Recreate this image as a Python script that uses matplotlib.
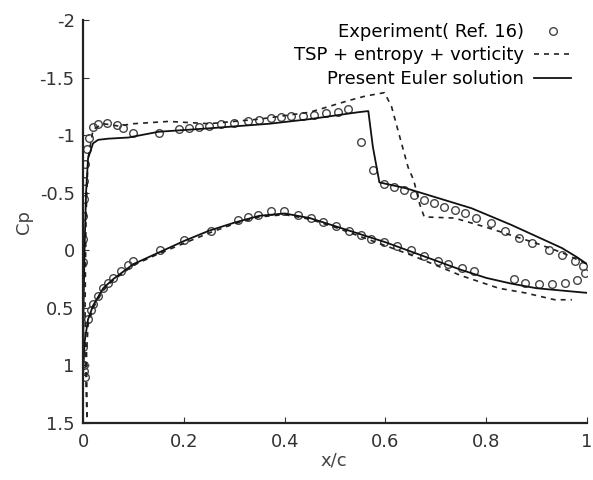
import numpy as np
import matplotlib
matplotlib.use('Agg')
import matplotlib.pyplot as plt

plt.rcParams['font.family'] = ['DejaVu Sans']

# experiment (Ref. 16), upper surface
exp_up_x = [0.0, 0.0, 0.001, 0.002, 0.004, 0.007, 0.012, 0.02, 0.03, 0.047, 0.067, 0.08,
            0.1, 0.15, 0.19, 0.21, 0.23, 0.25, 0.273, 0.299, 0.327, 0.349, 0.373, 0.392,
            0.412, 0.436, 0.458, 0.482, 0.506, 0.526, 0.552, 0.576, 0.598, 0.617, 0.637,
            0.657, 0.677, 0.697, 0.717, 0.737, 0.757, 0.78, 0.81, 0.837, 0.864, 0.89, 0.924,
            0.95, 0.977, 0.992, 0.995]
exp_up_cp = [-0.1, -0.3, -0.45, -0.6, -0.75, -0.88, -0.98, -1.07, -1.1, -1.11, -1.09, -1.06,
             -1.02, -1.02, -1.05, -1.06, -1.07, -1.08, -1.1, -1.11, -1.12, -1.13, -1.15, -1.16,
             -1.17, -1.17, -1.18, -1.19, -1.2, -1.23, -0.94, -0.70, -0.58, -0.55, -0.52,
             -0.48, -0.44, -0.41, -0.38, -0.35, -0.32, -0.28, -0.24, -0.17, -0.11, -0.06, 0.0,
             0.04, 0.09, 0.14, 0.2]

# experiment, lower surface
exp_lo_x = [0.0, 0.0, 0.001, 0.002, 0.004, 0.01, 0.015, 0.02, 0.03, 0.04, 0.05, 0.06, 0.075,
            0.09, 0.1, 0.153, 0.2, 0.253, 0.307, 0.327, 0.347, 0.372, 0.398, 0.426, 0.452,
            0.476, 0.502, 0.528, 0.552, 0.572, 0.598, 0.622, 0.651, 0.677, 0.705, 0.725,
            0.751, 0.775, 0.855, 0.877, 0.904, 0.93, 0.956, 0.98]
exp_lo_cp = [0.1, 0.84, 1.0, 1.05, 1.1, 0.6, 0.52, 0.47, 0.4, 0.33, 0.28, 0.24, 0.18,
             0.13, 0.09, 0.0, -0.09, -0.17, -0.26, -0.29, -0.31, -0.34, -0.34, -0.31, -0.28,
             -0.25, -0.21, -0.17, -0.13, -0.1, -0.07, -0.04, 0.0, 0.05, 0.09, 0.12,
             0.15, 0.18, 0.25, 0.28, 0.29, 0.29, 0.28, 0.26]

# TSP + entropy + vorticity
tsp_up_x = [0.008, 0.006, 0.004, 0.006, 0.01, 0.02, 0.04, 0.07, 0.1, 0.17, 0.25, 0.35, 0.45,
            0.526, 0.56, 0.598, 0.612, 0.625, 0.645, 0.656, 0.668, 0.677, 0.737, 0.8, 0.85,
            0.9, 0.95, 1.0]
tsp_up_cp = [1.45, 1.2, 0.5, -0.3, -0.8, -1.05, -1.1, -1.08, -1.1, -1.12, -1.1, -1.14, -1.2,
             -1.3, -1.34, -1.37, -1.25, -1.04, -0.72, -0.61, -0.4, -0.29, -0.28, -0.2, -0.13,
             -0.06, 0.02, 0.12]
tsp_lo_x = [0.008, 0.007, 0.01, 0.02, 0.04, 0.06, 0.1, 0.15, 0.2, 0.25, 0.3, 0.35, 0.4, 0.45,
            0.5, 0.55, 0.6, 0.65, 0.7, 0.75, 0.825, 0.877, 0.936, 0.97]
tsp_lo_cp = [1.45, 0.9, 0.65, 0.5, 0.35, 0.26, 0.13, 0.03, -0.06, -0.15, -0.23, -0.29, -0.31,
             -0.27, -0.2, -0.12, -0.04, 0.04, 0.13, 0.22, 0.33, 0.37, 0.43, 0.43]

# present Euler solution
eul_up_x = [0.0, 0.001, 0.003, 0.006, 0.01, 0.02, 0.03, 0.05, 0.09, 0.15, 0.25, 0.37, 0.45,
            0.546, 0.566, 0.575, 0.588, 0.64, 0.70, 0.771, 0.85, 0.9, 0.95, 0.98, 1.0]
eul_up_cp = [1.1, 0.5, 0.0, -0.5, -0.8, -0.93, -0.96, -0.97, -0.98, -1.03, -1.06, -1.10, -1.14,
             -1.2, -1.21, -0.9, -0.59, -0.54, -0.46, -0.365, -0.22, -0.12, -0.02, 0.06, 0.12]
eul_lo_x = [0.0, 0.003, 0.01, 0.02, 0.04, 0.06, 0.1, 0.15, 0.2, 0.25, 0.3, 0.35, 0.4, 0.45,
            0.5, 0.55, 0.6, 0.65, 0.7, 0.75, 0.8, 0.85, 0.9, 0.95, 1.0]
eul_lo_cp = [1.1, 0.8, 0.6, 0.48, 0.33, 0.25, 0.12, 0.02, -0.08, -0.17, -0.24, -0.30, -0.32,
             -0.28, -0.21, -0.14, -0.07, 0.01, 0.09, 0.17, 0.24, 0.29, 0.33, 0.35, 0.37]

fig = plt.figure(figsize=(5.93, 4.8), dpi=100)
ax = fig.add_axes([0.14, 0.119, 0.85, 0.839])

ax.plot(exp_up_x, exp_up_cp, 'o', ms=5.5, mfc='none', mec='#444444', mew=1.0,
        label='Experiment( Ref. 16)')
ax.plot(exp_lo_x, exp_lo_cp, 'o', ms=5.5, mfc='none', mec='#444444', mew=1.0)
ax.plot(tsp_up_x, tsp_up_cp, '--', color='#222222', lw=1.2, dashes=(3, 3),
        label='TSP + entropy + vorticity')
ax.plot(tsp_lo_x, tsp_lo_cp, '--', color='#222222', lw=1.2, dashes=(3, 3))
ax.plot(eul_up_x, eul_up_cp, '-', color='#111111', lw=1.3, label='Present Euler solution')
ax.plot(eul_lo_x, eul_lo_cp, '-', color='#111111', lw=1.3)

ax.set_xlim(0, 1)
ax.set_ylim(1.5, -2)
ax.set_xticks([0, 0.2, 0.4, 0.6, 0.8, 1])
ax.set_xticklabels(['0', '0.2', '0.4', '0.6', '0.8', '1'])
ax.set_yticks([-2, -1.5, -1, -0.5, 0, 0.5, 1, 1.5])
ax.set_yticklabels(['-2', '-1.5', '-1', '-0.5', '0', '0.5', '1', '1.5'])
ax.tick_params(direction='in', length=4, labelsize=13, colors='#333333')
ax.tick_params(axis='x', pad=7)
ax.tick_params(axis='y', pad=6)
ax.spines['top'].set_visible(False)
ax.spines['right'].set_visible(False)
for s in ['left', 'bottom']:
    ax.spines[s].set_linewidth(1.6)
    ax.spines[s].set_color('#222222')

ax.set_xlabel('x/c', fontsize=13, color='#444444')
ax.set_ylabel('Cp', fontsize=13, color='#444444')
ax.xaxis.set_label_coords(0.497, -0.072)
ax.yaxis.set_label_coords(-0.10, 0.50)

ax.legend(loc='upper right', bbox_to_anchor=(0.963, 0.952), bbox_transform=fig.transFigure,
          frameon=False, markerfirst=False, fontsize=13, handlelength=2.05,
          handletextpad=0.55, labelspacing=0.3, borderaxespad=0, borderpad=0)

fig.savefig('out.png', dpi=100)
